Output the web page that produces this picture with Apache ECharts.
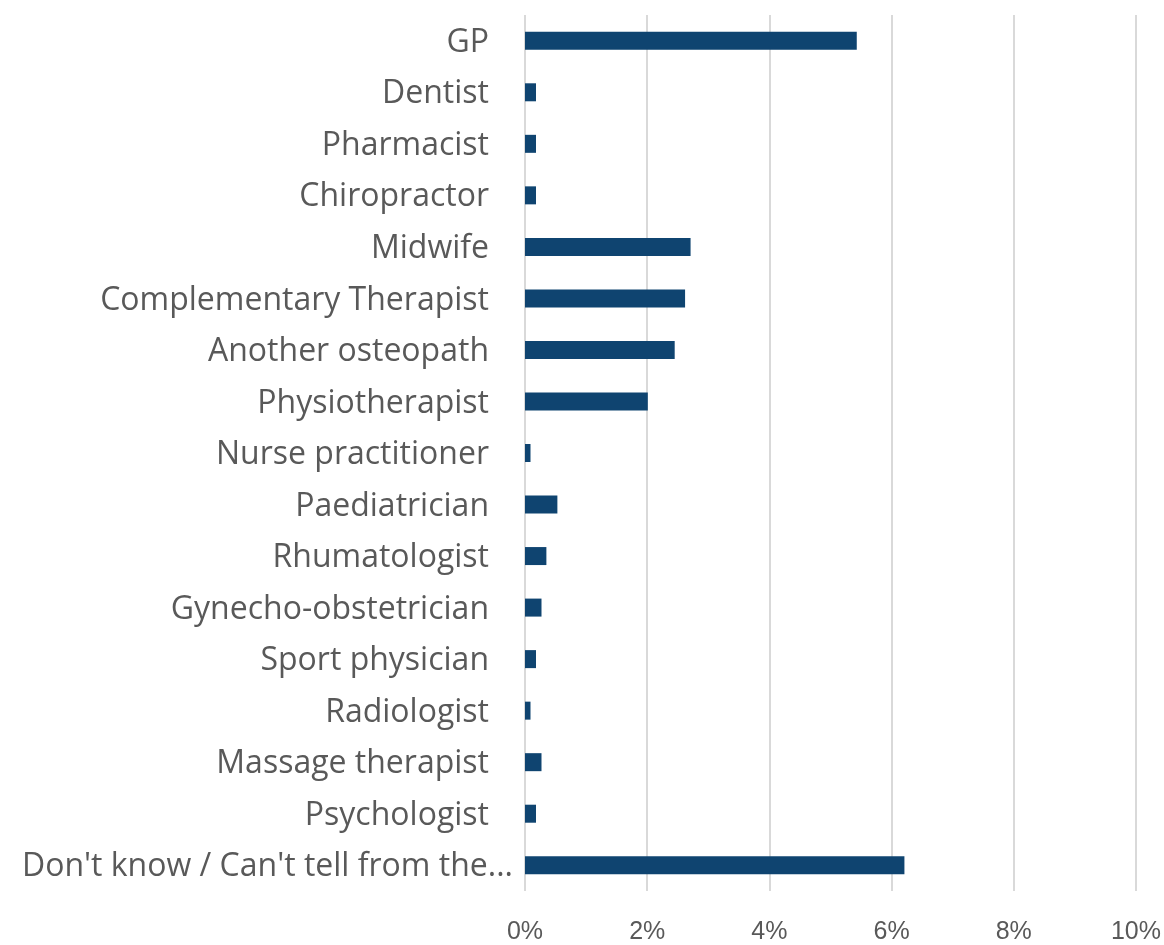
<!DOCTYPE html>
<html>
<head>
<meta charset="utf-8">
<script src="https://cdn.jsdelivr.net/npm/echarts@6/dist/echarts.min.js"></script>
<style>
  html, body { margin: 0; padding: 0; background: #fff; }
  #chart { width: 1164px; height: 945px; }
</style>
</head>
<body>
<div id="chart"></div>
<script>
// categories, top to bottom
const categories = [
  'GP', 'Dentist', 'Pharmacist', 'Chiropractor', 'Midwife',
  'Complementary Therapist', 'Another osteopath', 'Physiotherapist',
  'Nurse practitioner', 'Paediatrician', 'Rhumatologist',
  'Gynecho-obstetrician', 'Sport physician', 'Radiologist',
  'Massage therapist', 'Psychologist', 'Don\'t know / Can\'t tell from the...'
]
// share in %
const values = [5.43, 0.18, 0.18, 0.18, 2.71, 2.62, 2.45, 2.01, 0.09, 0.53, 0.35, 0.27, 0.18, 0.09, 0.27, 0.18, 6.21]
const xTicks = { min: 0, max: 10, interval: 2 }

const chart = echarts.init(document.getElementById('chart'))
chart.setOption({
  animation: false,
  grid: { left: 525, right: 25, top: 15, bottom: 48, containLabel: false },
  xAxis: {
    type: 'value',
    min: xTicks.min,
    max: xTicks.max,
    interval: xTicks.interval,
    axisLine: { show: false },
    axisTick: { show: false },
    axisLabel: {
      formatter: '{value}%',
      color: '#595959',
      fontSize: 25,
      fontFamily: 'Liberation Sans',
      margin: 29
    },
    splitLine: { lineStyle: { color: '#d9d9d9', width: 2 } }
  },
  yAxis: {
    type: 'category',
    inverse: true,
    data: categories,
    axisLine: { show: false },
    axisTick: { show: false },
    axisLabel: {
      color: '#595959',
      fontSize: 32,
      fontFamily: 'Open Sans',
      margin: 36,
      formatter: function (v, i) {
        return i === categories.length - 1 ? '{last|' + v + '}' : '{n|' + v + '}'
      },
      rich: {
        n: { color: '#595959', fontSize: 32, fontFamily: 'Open Sans', padding: [4, 0, 0, 0] },
        last: { color: '#595959', fontSize: 32, fontFamily: 'Open Sans', padding: [4, -24, 0, 0] }
      }
    }
  },
  series: [
    {
      type: 'bar',
      data: values,
      barWidth: 18,
      itemStyle: { color: '#0f4470' }
    }
  ]
})
</script>
</body>
</html>
